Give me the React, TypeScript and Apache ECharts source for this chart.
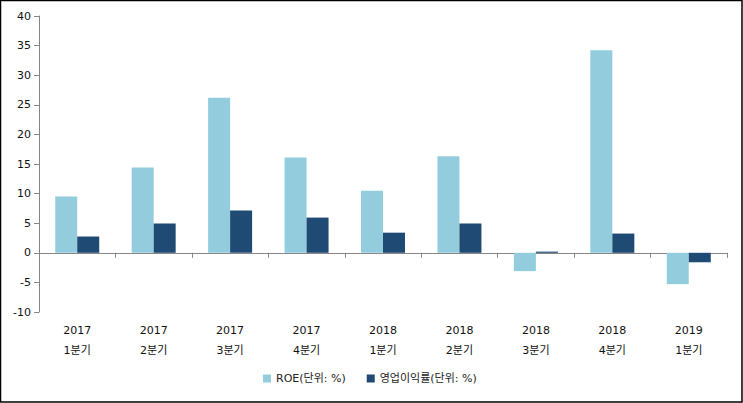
import React, { useEffect, useRef } from "react";
import * as echarts from "echarts";

const categories = [
  "2017\n1분기", "2017\n2분기", "2017\n3분기", "2017\n4분기",
  "2018\n1분기", "2018\n2분기", "2018\n3분기", "2018\n4분기", "2019\n1분기",
];
const roe = [9.5, 14.4, 26.2, 16.1, 10.5, 16.3, -3.1, 34.2, -5.3];
const opMargin = [2.75, 4.95, 7.15, 5.95, 3.4, 4.95, 0.2, 3.25, -1.6];
const seriesNames = ["ROE(단위: %)", "영업이익률(단위: %)"];

const FONT = "'DejaVu Sans', 'Noto Sans CJK KR', sans-serif";

export default function App() {
  const ref = useRef<HTMLDivElement>(null);
  useEffect(() => {
    if (!ref.current) return;
    const chart = echarts.init(ref.current, null, { renderer: "svg" });
    chart.setOption({
      animation: false,
      backgroundColor: "#fff",
      textStyle: { fontFamily: FONT },
      grid: { left: 39, right: 16, top: 16, bottom: 91 },
      legend: {
        bottom: 14,
        left: 258,
        itemWidth: 8,
        itemHeight: 8,
        itemGap: 21,
        icon: "rect",
        textStyle: { fontSize: 11, color: "#222", fontFamily: FONT },
        data: seriesNames,
      },
      xAxis: [
        {
          type: "category",
          data: categories,
          axisLine: { onZero: true, lineStyle: { color: "#868686", width: 1 } },
          axisTick: { show: true, length: 5, inside: false, lineStyle: { color: "#868686" } },
          axisLabel: { show: false },
        },
        {
          type: "category",
          data: categories,
          position: "bottom",
          axisLine: { show: false, onZero: false },
          axisTick: { show: false },
          axisLabel: {
            show: true,
            color: "#111",
            fontSize: 11,
            lineHeight: 20,
            margin: 8,
            fontFamily: FONT,
          },
        },
      ],
      yAxis: {
        type: "value",
        min: -10,
        max: 40,
        interval: 5,
        axisLine: { show: true, lineStyle: { color: "#868686" } },
        axisTick: { show: true, length: 5, lineStyle: { color: "#868686" } },
        axisLabel: { color: "#111", fontSize: 11, margin: 8, fontFamily: FONT },
        splitLine: { show: false },
      },
      series: [
        {
          name: seriesNames[0],
          type: "bar",
          data: roe,
          barWidth: 22,
          barGap: "0%",
          itemStyle: { color: "#93CDDD" },
        },
        {
          name: seriesNames[1],
          type: "bar",
          data: opMargin,
          barWidth: 22,
          barGap: "0%",
          itemStyle: { color: "#1F4A74" },
        },
      ],
      graphic: [
        {
          type: "rect",
          shape: { x: 0.5, y: 0.5, width: 741.5, height: 401.5 },
          style: { fill: "none", stroke: "#000", lineWidth: 1.5 },
          silent: true,
        },
      ],
    });
    return () => chart.dispose();
  }, []);
  return (
    <div
      ref={ref}
      style={{ position: "absolute", left: 0, top: 0, width: 743, height: 403 }}
    />
  );
}
